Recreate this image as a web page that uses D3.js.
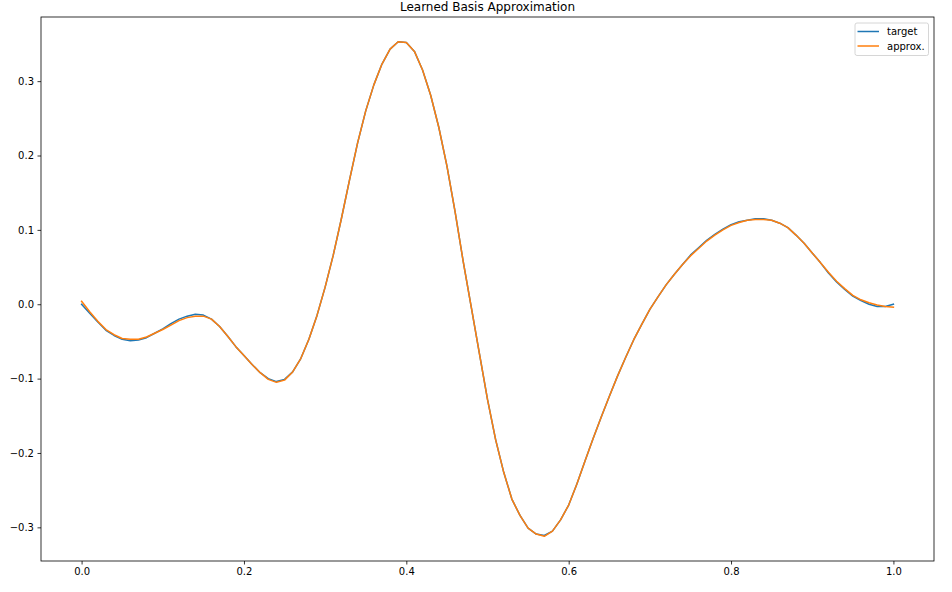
<!DOCTYPE html>
<html>
<head>
<meta charset="utf-8">
<script src="https://cdn.jsdelivr.net/npm/d3@7"></script>
<style>
  body { margin: 0; background: #fff; }
  text { font-family: "DejaVu Sans", sans-serif; fill: #000; }
</style>
</head>
<body>
<div id="chart"></div>
<script>
// ===== data (x = 0.00 .. 1.00, step 0.01) =====

let xs = d3.range(0, 101).map(i => i / 100);

let target = [
  0.000, -0.012, -0.024, -0.035, -0.042, -0.047, -0.049, -0.048, -0.045, -0.039,
  -0.033, -0.026, -0.020, -0.016, -0.0135, -0.0146, -0.020, -0.030, -0.043, -0.057,
  -0.069, -0.081, -0.092, -0.100, -0.104, -0.101, -0.091, -0.073, -0.047, -0.015,
  0.023, 0.066, 0.115, 0.167, 0.217, 0.260, 0.295, 0.323, 0.343, 0.353,
  0.352, 0.340, 0.315, 0.281, 0.238, 0.186, 0.125, 0.058, -0.004, -0.066,
  -0.128, -0.182, -0.226, -0.262, -0.284, -0.301, -0.309, -0.311, -0.305, -0.290,
  -0.270, -0.242, -0.211, -0.181, -0.152, -0.124, -0.097, -0.072, -0.048, -0.027,
  -0.007, 0.010, 0.026, 0.040, 0.053, 0.066, 0.076, 0.086, 0.094, 0.101,
  0.107, 0.111, 0.113, 0.115, 0.115, 0.113, 0.109, 0.103, 0.093, 0.082,
  0.069, 0.056, 0.042, 0.030, 0.020, 0.011, 0.005, 0.000, -0.003, -0.003,
  0.000
];

let approx = [
  0.004, -0.010, -0.023, -0.034, -0.041, -0.046, -0.047, -0.047, -0.044, -0.039,
  -0.034, -0.028, -0.022, -0.018, -0.016, -0.016, -0.020, -0.030, -0.043, -0.057,
  -0.069, -0.081, -0.092, -0.101, -0.105, -0.102, -0.091, -0.073, -0.047, -0.015,
  0.023, 0.066, 0.115, 0.167, 0.217, 0.260, 0.295, 0.323, 0.343, 0.353,
  0.352, 0.340, 0.315, 0.281, 0.238, 0.186, 0.125, 0.058, -0.004, -0.066,
  -0.128, -0.182, -0.226, -0.262, -0.284, -0.301, -0.309, -0.312, -0.305, -0.290,
  -0.270, -0.242, -0.211, -0.181, -0.152, -0.124, -0.097, -0.072, -0.048, -0.027,
  -0.007, 0.010, 0.026, 0.040, 0.053, 0.065, 0.075, 0.085, 0.093, 0.100,
  0.106, 0.110, 0.113, 0.114, 0.114, 0.113, 0.109, 0.103, 0.093, 0.082,
  0.069, 0.056, 0.043, 0.031, 0.021, 0.012, 0.006, 0.002, -0.001, -0.003,
  -0.004
];

let xTicks = [0.0, 0.2, 0.4, 0.6, 0.8, 1.0],
    yTicks = [-0.3, -0.2, -0.1, 0.0, 0.1, 0.2, 0.3];

let seriesNames = ["target", "approx."],
    colors = ["#1f77b4", "#ff7f0e"];

// ===== layout =====

let W = 952, H = 592;
let margin = {top: 17, right: 18, bottom: 31, left: 41},
    width = W - margin.left - margin.right,
    height = H - margin.top - margin.bottom;

let svg = d3.select("#chart").append("svg")
    .attr("width", W)
    .attr("height", H);

let g = svg.append("g")
    .attr("transform", "translate(" + margin.left + "," + margin.top + ")");

// matplotlib style 5% padding around the data
let yMin = d3.min([d3.min(target), d3.min(approx)]),
    yMax = d3.max([d3.max(target), d3.max(approx)]),
    yPad = (yMax - yMin) * 0.05;

let x = d3.scaleLinear().domain([-0.05, 1.05]).range([0, width]),
    y = d3.scaleLinear().domain([yMin - yPad, yMax + yPad]).range([height, 0]);

let xAxis = d3.axisBottom(x).tickValues(xTicks).tickFormat(d3.format(".1f"))
    .tickSizeInner(3.5).tickSizeOuter(0).tickPadding(3.5);
let yAxis = d3.axisLeft(y).tickValues(yTicks).tickFormat(d3.format(".1f"))
    .tickSizeInner(3.5).tickSizeOuter(0).tickPadding(3.5);

g.append("g")
    .attr("class", "axis axis--x")
    .attr("transform", "translate(0," + height + ")")
    .call(xAxis);
g.append("g")
    .attr("class", "axis axis--y")
    .call(yAxis);

g.selectAll(".axis path").remove();
g.selectAll(".axis line").attr("stroke", "#000").attr("stroke-width", 0.8);
g.selectAll(".axis text")
    .style("font-family", "DejaVu Sans")
    .style("font-size", "10px")
    .attr("fill", "#000");

// ===== lines =====

let line = d3.line()
    .x((d, i) => x(xs[i]))
    .y(d => y(d));

[target, approx].forEach((s, i) => {
  g.append("path")
      .datum(s)
      .attr("fill", "none")
      .attr("stroke", colors[i])
      .attr("stroke-width", 1.5)
      .attr("stroke-linejoin", "round")
      .attr("stroke-linecap", "square")
      .attr("d", line);
});

// spines
g.append("rect")
    .attr("width", width)
    .attr("height", height)
    .attr("fill", "none")
    .attr("stroke", "#000")
    .attr("stroke-width", 0.8);

// title
svg.append("text")
    .attr("x", margin.left + width / 2)
    .attr("y", 11)
    .attr("text-anchor", "middle")
    .style("font-size", "12px")
    .text("Learned Basis Approximation");

// ===== legend =====

let lg = g.append("g")
    .attr("transform", "translate(" + (width - 79) + ",6)");

lg.append("rect")
    .attr("width", 73.5)
    .attr("height", 32.5)
    .attr("rx", 2)
    .attr("fill", "#fff")
    .attr("fill-opacity", 0.8)
    .attr("stroke", "#cccccc")
    .attr("stroke-width", 0.8);

seriesNames.forEach((name, i) => {
  lg.append("line")
      .attr("x1", 2.5).attr("x2", 24)
      .attr("y1", 8.5 + i * 14.5).attr("y2", 8.5 + i * 14.5)
      .attr("stroke", colors[i])
      .attr("stroke-width", 1.5);
  lg.append("text")
      .attr("x", 32)
      .attr("y", 12 + i * 14.5)
      .style("font-size", "10px")
      .text(name);
});
</script>
</body>
</html>
